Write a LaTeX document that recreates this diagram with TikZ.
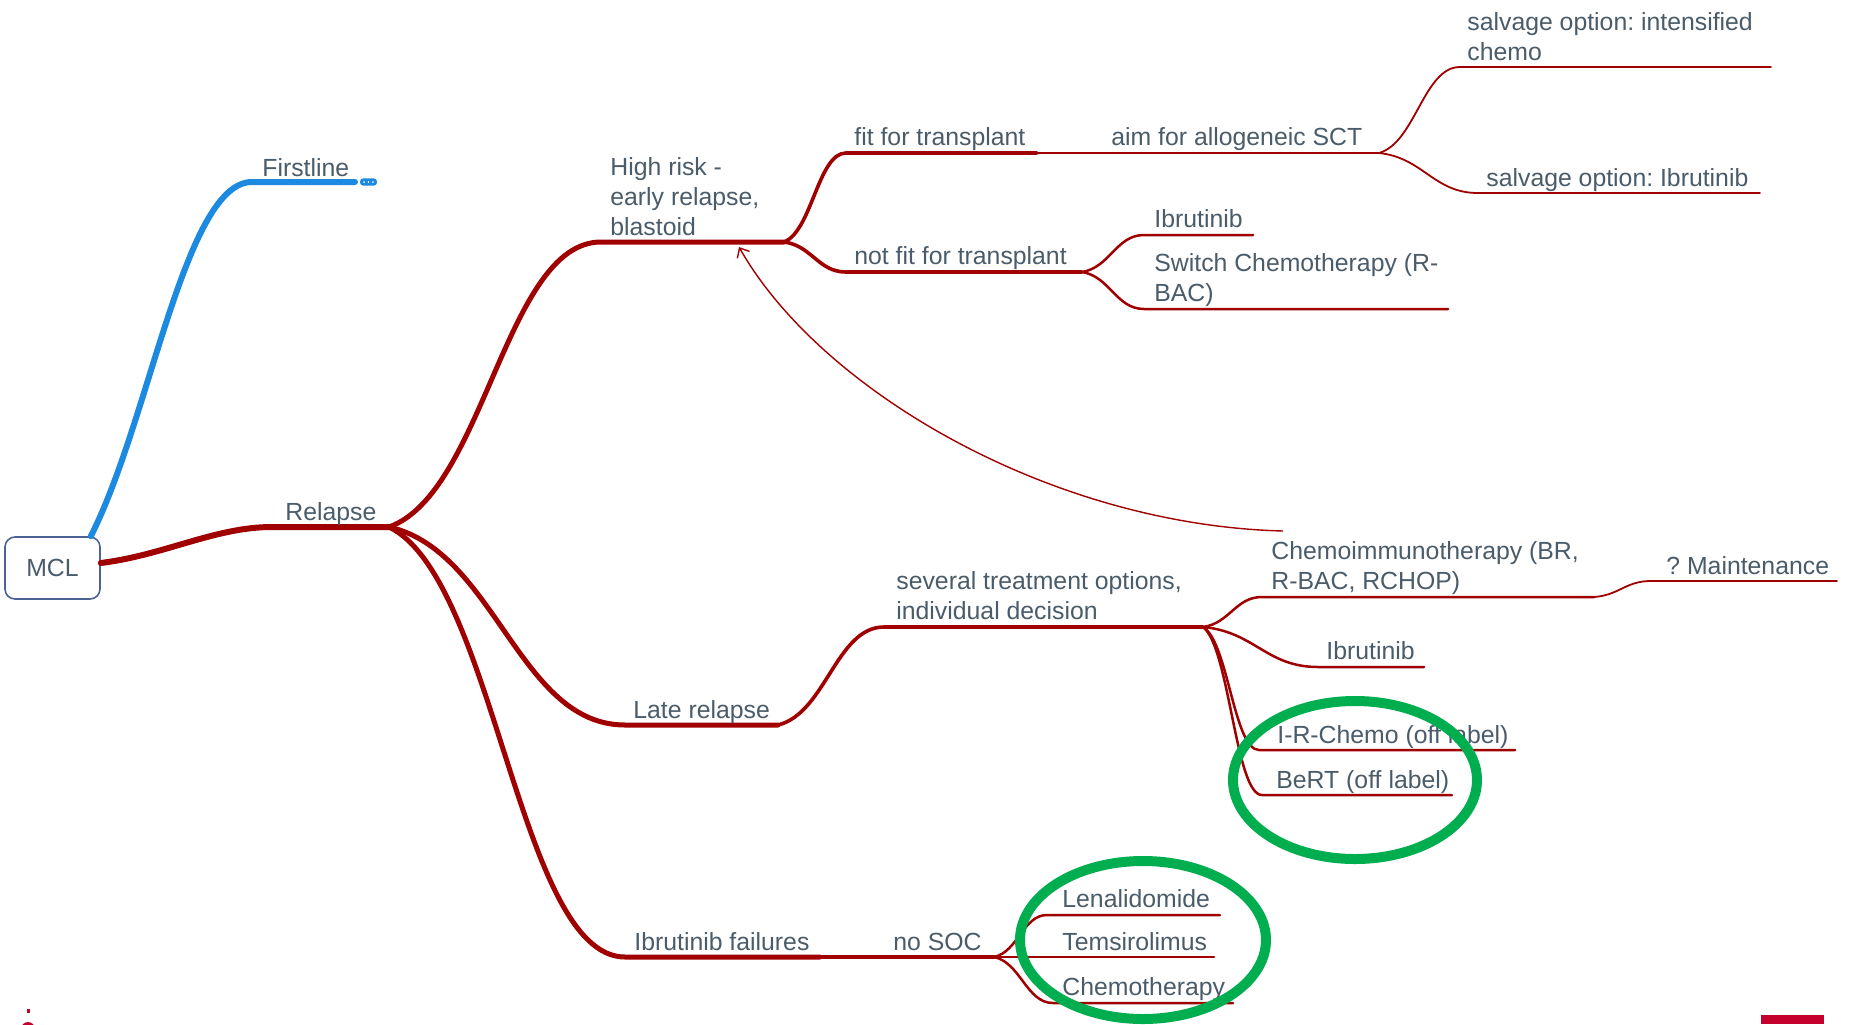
\documentclass[tikz,border=0pt]{standalone}
\usepackage{fontspec}
\setmainfont{Liberation Sans}
\usetikzlibrary{calc,arrows.meta}
\definecolor{mred}{HTML}{A00000}
\definecolor{mblue}{HTML}{1C8AE0}
\definecolor{mgreen}{HTML}{00AE4F}
\definecolor{mtxt}{HTML}{4A5B69}
\definecolor{mbox}{HTML}{4C6393}
\definecolor{mlogo}{HTML}{C4002C}
\frenchspacing
\begin{document}
\begin{tikzpicture}[x=0.5pt,y=-0.5pt,
  br/.style={to path={let \p1=(\tikztostart), \p2=(\tikztotarget) in
     .. controls ({\x1+0.45*((\x2)-(\x1))},{\y1+0.12*((\y2)-(\y1))})
     and ({\x2-0.45*((\x2)-(\x1))},{\y2}) .. (\tikztotarget)}},
  lbl/.style={anchor=base west, inner sep=0pt, text=mtxt, align=left,
     font=\fontsize{12.4}{15}\selectfont},
  lone/.style={draw=mred, line width=3pt, line cap=round},
  ltwo/.style={draw=mred, line width=2.5pt, line cap=round},
  lthree/.style={draw=mred, line width=1.8pt, line cap=round},
  lfour/.style={draw=mred, line width=1.25pt, line cap=round},
  lfive/.style={draw=mred, line width=0.9pt, line cap=round},
  ring/.style={draw=mgreen, line width=5pt},
]
\useasboundingbox (0,0) rectangle (1849,1024);
\clip (0,0) rectangle (1849,1024);

% ---------- coordinates ----------
\coordinate (fl-s) at (252,182);   \coordinate (fl-e) at (355,182);
\coordinate (rel-s) at (272,527);  \coordinate (rel-e) at (389,527);
\coordinate (hr-s) at (601,242);   \coordinate (hr-e) at (784,242);
\coordinate (lr-s) at (625,725);   \coordinate (lr-e) at (778,725);
\coordinate (ibf-s) at (625,957);  \coordinate (ibf-e) at (820,957);
\coordinate (fit-s) at (846,153);  \coordinate (fit-e) at (1037,153);
\coordinate (nf-s) at (846,272);   \coordinate (nf-e) at (1082,272);
\coordinate (sev-s) at (884,627);  \coordinate (sev-e) at (1203,627);
\coordinate (nosoc-s) at (885,957);\coordinate (nosoc-e) at (994,957);
\coordinate (aim-s) at (1103,153); \coordinate (aim-e) at (1379,153);
\coordinate (ib1-s) at (1144,235); \coordinate (ib1-e) at (1253,235);
\coordinate (sw-s) at (1144,309);  \coordinate (sw-e) at (1448,309);
\coordinate (ci-s) at (1262,597);  \coordinate (ci-e) at (1594,597);
\coordinate (ib2-s) at (1318,667); \coordinate (ib2-e) at (1424,667);
\coordinate (ir-s) at (1259,750);  \coordinate (ir-e) at (1515,750);
\coordinate (bert-s) at (1262,795);\coordinate (bert-e) at (1452,795);
\coordinate (len-s) at (1047,915); \coordinate (len-e) at (1220,915);
\coordinate (tem-e) at (1214,957);
\coordinate (che-s) at (1053,1003);\coordinate (che-e) at (1233,1003);
\coordinate (sal1-s) at (1460,67); \coordinate (sal1-e) at (1771,67);
\coordinate (sal2-s) at (1478,193);\coordinate (sal2-e) at (1760,193);
\coordinate (mt-s) at (1651,581);  \coordinate (mt-e) at (1837,581);
\coordinate (arr-s) at (1283,531); \coordinate (arr-e) at (739,247);

% ---------- central topic ----------
\node[draw=mbox, line width=0.8pt, rounded corners=5pt, minimum width=47.5pt,
      minimum height=31pt, inner sep=0pt, text=mtxt,
      font=\fontsize{12.4}{15}\selectfont] (mcl) at (52.5,568) {MCL};
\coordinate (fl-in) at ($(mcl.north east)+(-10,0)$);
\coordinate (rel-in) at ($(mcl.east)+(0,-5)$);

% ---------- first level ----------
\draw[draw=mblue, line width=3pt, line cap=round]
  (fl-in) .. controls (150,420) and (185,182) .. (fl-s) -- (fl-e);
\node[fill=mblue, rounded corners=1.6pt, minimum width=8.5pt, minimum height=3.6pt,
      inner sep=0pt] (more) at (368.5,182) {};
\foreach \dx in {-2.2,0,2.2}
  \fill[white] ($(more)+(\dx*2,0)$) circle (0.45pt);
\draw[lone] (rel-in) .. controls (165,555) and (215,527) .. (rel-s) -- (rel-e);

% ---------- second level ----------
\draw[ltwo] (rel-e) to[br] (hr-s) -- (hr-e);
\draw[ltwo] (rel-e) to[br] (lr-s) -- (lr-e);
\draw[ltwo] (rel-e) to[br] (ibf-s) -- (ibf-e);

% ---------- third level ----------
\draw[lthree] (hr-e) to[br] (fit-s) -- (fit-e);
\draw[lthree] (hr-e) to[br] (nf-s) -- (nf-e);
\draw[lthree] (lr-e) to[br] (sev-s) -- (sev-e);
\draw[lthree] (ibf-e) -- (nosoc-s) -- (nosoc-e);

% ---------- fourth level ----------
\draw[lfour] (fit-e) -- (aim-s) -- (aim-e);
\draw[lfour] (nf-e) to[br] (ib1-s) -- (ib1-e);
\draw[lfour] (nf-e) to[br] (sw-s) -- (sw-e);
\draw[lfour] (sev-e) to[br] (ci-s) -- (ci-e);
\draw[lfour] (sev-e) to[br] (ib2-s) -- (ib2-e);
\draw[lfour] (sev-e) to[br] (ir-s) -- (ir-e);
\draw[lfour] (sev-e) to[br] (bert-s) -- (bert-e);
\draw[lfour] (nosoc-e) to[br] (len-s) -- (len-e);
\draw[lfour] (nosoc-e) -- (tem-e);
\draw[lfour] (nosoc-e) to[br] (che-s) -- (che-e);

% ---------- fifth level ----------
\draw[lfive] (aim-e) to[br] (sal1-s) -- (sal1-e);
\draw[lfive] (aim-e) to[br] (sal2-s) -- (sal2-e);
\draw[lfive] (ci-e) to[br] (mt-s) -- (mt-e);

% ---------- relationship arrow ----------
\draw[draw=mred, line width=0.7pt, -{Straight Barb[length=4pt,width=7pt]}]
  (arr-s) .. controls (1050,525) and (820,390) .. (arr-e);

% ---------- labels ----------
\node[lbl] (fl) at (262,176) {Firstline};
\node[lbl] (rel) at (285,520) {Relapse};
\node[lbl] (hr) at (610,235) {High risk -\\early relapse,\\blastoid};
\node[lbl] (lr) at (633,718) {Late relapse};
\node[lbl] (ibf) at (634,950) {Ibrutinib failures};
\node[lbl] (fit) at (854,145) {fit for transplant};
\node[lbl] (nf) at (854,264) {not fit for transplant};
\node[lbl] (sev) at (896,619) {several treatment options,\\individual decision};
\node[lbl] (nosoc) at (893,950) {no SOC};
\node[lbl] (aim) at (1111,145) {aim for allogeneic SCT};
\node[lbl] (ib1) at (1154,227) {Ibrutinib};
\node[lbl] (sw) at (1154,301) {Switch Chemotherapy (R-\\BAC)};
\node[lbl] (ci) at (1271,589) {Chemoimmunotherapy (BR,\\R-BAC, RCHOP)};
\node[lbl] (ib2) at (1326,659) {Ibrutinib};
\node[lbl] (ir) at (1277,743) {I-R-Chemo (off label)};
\node[lbl] (bert) at (1276,788) {BeRT (off label)};
\node[lbl] (len) at (1062,907) {Lenalidomide};
\node[lbl] (tem) at (1062,950) {Temsirolimus};
\node[lbl] (che) at (1062,995) {Chemotherapy};
\node[lbl] (sal1) at (1467,60) {salvage option: intensified\\chemo};
\node[lbl] (sal2) at (1486,186) {salvage option: Ibrutinib};
\node[lbl] (mt) at (1666,574) {? Maintenance};

% ---------- green highlight rings ----------
\draw[ring] (1355,780) ellipse [x radius=122, y radius=79];
\draw[ring] (1143,940) ellipse [x radius=123, y radius=79];

% ---------- corner marks ----------
\fill[mlogo] (26.5,1009) rectangle (29.5,1012.5);
\fill[mlogo] (28,1029) circle (3.5pt);
\fill[mlogo] (1761,1015) rectangle (1824,1024);
\end{tikzpicture}
\end{document}
